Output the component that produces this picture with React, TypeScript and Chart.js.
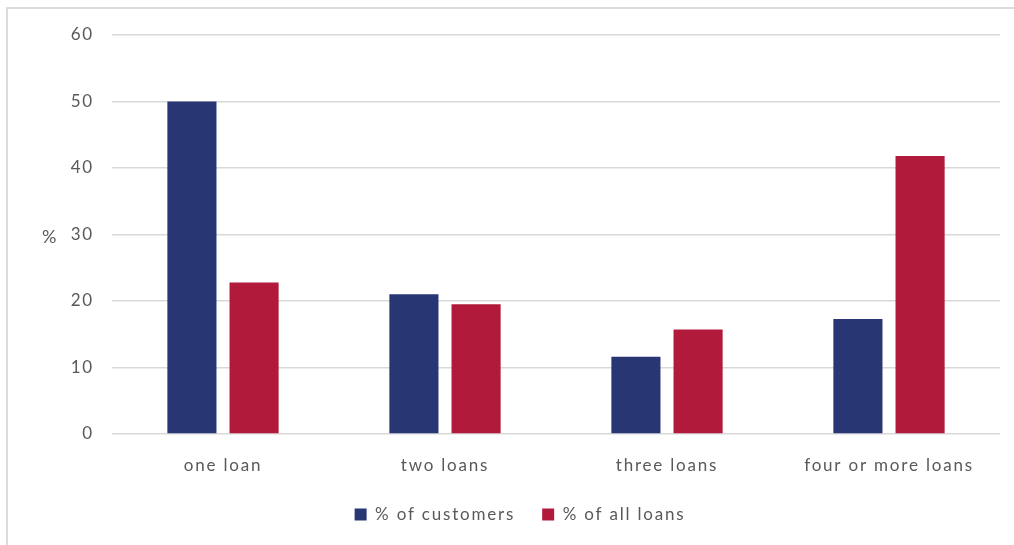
import React, { useEffect, useRef } from "react";
import { Chart, registerables } from "chart.js";

Chart.register(...registerables);

const categories = ["one loan", "two loans", "three loans", "four or more loans"];
const customersPct = [50, 21, 11.6, 17.3];
const loansPct = [22.8, 19.5, 15.7, 41.8];
const seriesNames = ["% of customers", "% of all loans"];
const yTicks = [0, 10, 20, 30, 40, 50, 60];

const FONT = "Lato";
const TEXT = "#595959";
const SPACING = "1.8px";

const spacingPlugin = {
  id: "spacing",
  beforeUpdate(chart: any) {
    chart.ctx.letterSpacing = SPACING;
  },
  beforeLayout(chart: any) {
    chart.ctx.letterSpacing = SPACING;
  },
  afterLayout(chart: any) {
    if (chart.legend) {
      chart.legend.left = 20;
      chart.legend.right = 1020;
    }
  },
  beforeDraw(chart: any) {
    chart.ctx.letterSpacing = SPACING;
  },
};

const percentTitle = {
  id: "percentTitle",
  afterDraw(chart: any) {
    const { ctx, chartArea } = chart;
    ctx.save();
    ctx.letterSpacing = SPACING;
    ctx.font = `18px ${FONT}`;
    ctx.fillStyle = TEXT;
    ctx.textAlign = "center";
    ctx.textBaseline = "middle";
    ctx.fillText("%", 50, (chartArea.top + chartArea.bottom) / 2 + 3);
    ctx.restore();
  },
};

export default function App() {
  const ref = useRef<HTMLCanvasElement | null>(null);
  useEffect(() => {
    if (!ref.current) return;
    const chart = new Chart(ref.current, {
      type: "bar",
      data: {
        labels: categories,
        datasets: [
          { label: seriesNames[0], data: customersPct, backgroundColor: "#283673" },
          { label: seriesNames[1], data: loansPct, backgroundColor: "#B21A3C" },
        ],
      },
      options: {
        animation: false,
        responsive: true,
        maintainAspectRatio: false,
        layout: { padding: { left: 0, right: 14, top: 35, bottom: 12 } },
        datasets: { bar: { categoryPercentage: 0.56, barPercentage: 0.79 } } as any,
        plugins: {
          legend: {
            position: "bottom",
            labels: {
              font: { family: FONT, size: 17 },
              color: TEXT,
              boxWidth: 12,
              boxHeight: 12,
              padding: 27,
            },
          },
          tooltip: { enabled: false },
        },
        scales: {
          x: {
            grid: { display: false },
            border: { display: false },
            ticks: { font: { family: FONT, size: 17 }, color: TEXT, padding: 13, maxRotation: 0 },
            afterFit(scale: any) {
              scale.height = 45;
            },
          },
          y: {
            min: 0,
            max: 60,
            afterBuildTicks(scale: any) {
              scale.ticks = yTicks.map((v) => ({ value: v }));
            },
            grid: { color: "#d9d9d9", lineWidth: 1.5, drawTicks: false },
            border: { display: false },
            ticks: { font: { family: FONT, size: 17 }, color: TEXT, padding: 18 },
            afterFit(scale: any) {
              scale.width = 112;
            },
          },
        },
      },
      plugins: [spacingPlugin, percentTitle],
    });
    return () => chart.destroy();
  }, []);

  return (
    <>
      <div
        style={{
          position: "fixed",
          left: 6,
          top: 7,
          width: 1008,
          height: 538,
          borderTop: "2px solid #dcdcdc",
          borderLeft: "2px solid #dcdcdc",
        }}
      />
      <div style={{ position: "fixed", left: 0, top: 0, width: 1014, height: 545 }}>
        <canvas ref={ref} />
      </div>
    </>
  );
}
